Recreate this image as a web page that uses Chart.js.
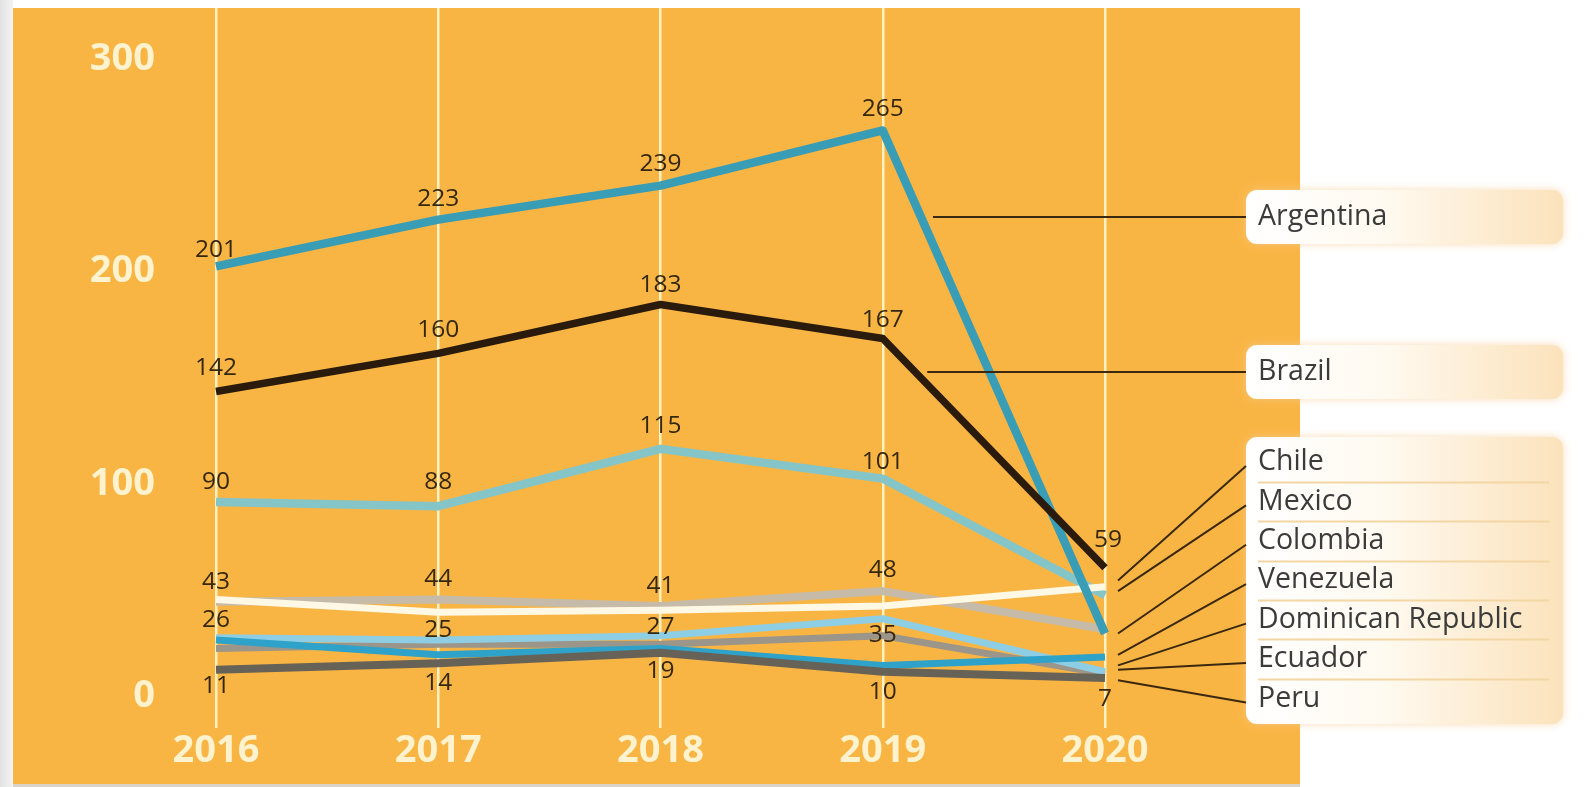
<!DOCTYPE html>
<html><head><meta charset="utf-8">
<script src="https://cdn.jsdelivr.net/npm/chart.js@4.4.0/dist/chart.umd.min.js"></script>
<style>
html,body{margin:0;padding:0;background:#fff;overflow:hidden;}
canvas{display:block;}
</style></head><body>
<canvas id="c" width="1593" height="787"></canvas>
<script>
// ---- data ----
const years = ['2016','2017','2018','2019','2020'];
const yTicks = [0, 100, 200, 300];
const argentina = [201, 223, 239, 265, 28];
const brazil = [142, 160, 183, 167, 59];
const chile = [90, 88, 115, 101, 46];
const mexico = [44, 38, 39, 41, 50];
const colombia = [43, 44, 41, 48, 30];
const venezuela = [25, 18, 21, 13, 17];
const dominicanRepublic = [26, 25, 27, 35, 10];
const ecuador = [21, 23, 23, 27, 9];
const peru = [11, 14, 19, 10, 7];
const boxedCountries = ['Argentina', 'Brazil'];
const groupedCountries = ['Chile', 'Mexico', 'Colombia', 'Venezuela', 'Dominican Republic', 'Ecuador', 'Peru'];
// which points carry a value label
const labelShown = {
  'Argentina': [1,1,1,1,0],
  'Brazil': [1,1,1,1,1],
  'Chile': [1,1,1,1,0],
  'Colombia': [1,1,1,1,0],
  'Dominican Republic': [1,1,1,1,0],
  'Peru': [1,1,1,1,1]
};

// ---- styles / layout ----
const W = 1593, H = 787;
const PANEL = '#F9B544';
const labelOffsets = {
  'Argentina': [-16,-21,-22,-21,0],
  'Brazil': [-24,-23,-20,-18,-28],
  'Chile': [-20,-24,-23,-17,0],
  'Colombia': [-20,-21,-20,-21,0],
  'Dominican Republic': [-18,-10,-9,16,0],
  'Peru': [16,20,18,20,21]
};
const labelDx = {'Brazil':[0,0,0,0,3]};
const leaderAnchorValues = [53, 48, 28, 18, 13, 11, 6];

const styles = {
  'Brazil': {color:'#2A1B0C', width:7.5},
  'Argentina': {color:'#3A9DB6', width:8.5},
  'Peru': {color:'#676257', width:8},
  'Mexico': {color:'#FFF8E4', width:7},
  'Chile': {color:'#86C5C7', width:8.5},
  'Colombia': {color:'#C6BBA9', width:8},
  'Venezuela': {color:'#2FA2C9', width:7},
  'Dominican Republic': {color:'#8ECEE4', width:7},
  'Ecuador': {color:'#9C9589', width:7}
};
const seriesData = {
  'Brazil': brazil, 'Argentina': argentina, 'Peru': peru, 'Mexico': mexico, 'Chile': chile,
  'Colombia': colombia, 'Venezuela': venezuela, 'Dominican Republic': dominicanRepublic, 'Ecuador': ecuador
};
const drawOrder = ['Brazil','Argentina','Peru','Mexico','Chile','Colombia','Venezuela','Dominican Republic','Ecuador'];

const datasets = drawOrder.map(name => ({
  label: name,
  data: seriesData[name],
  borderColor: styles[name].color,
  borderWidth: styles[name].width,
  pointRadius: 0,
  tension: 0,
  fill: false
}));

function rr(ctx, x, y, w, h, r) {
  ctx.beginPath();
  ctx.moveTo(x + r, y);
  ctx.arcTo(x + w, y, x + w, y + h, r);
  ctx.arcTo(x + w, y + h, x, y + h, r);
  ctx.arcTo(x, y + h, x, y, r);
  ctx.arcTo(x, y, x + w, y, r);
  ctx.closePath();
}
function legendBox(ctx, x, y, w, h) {
  ctx.save();
  const g = ctx.createLinearGradient(x, 0, x + w, 0);
  g.addColorStop(0, '#ffffff');
  g.addColorStop(0.42, '#fffaf1');
  g.addColorStop(1, '#fbe2bb');
  ctx.shadowColor = 'rgba(245,205,150,0.7)';
  ctx.shadowBlur = 8;
  ctx.fillStyle = g;
  rr(ctx, x, y, w, h, 11);
  ctx.fill();
  ctx.restore();
}

const panelPlugin = {
  id: 'panel',
  beforeDraw(chart) {
    const ctx = chart.ctx;
    ctx.save();
    ctx.fillStyle = '#ffffff';
    ctx.fillRect(0, 0, W, H);
    const g = ctx.createLinearGradient(0, 0, 13, 0);
    g.addColorStop(0, '#e2e2e2');
    g.addColorStop(1, '#f3f3f3');
    ctx.fillStyle = g;
    ctx.fillRect(0, 0, 13, H);
    ctx.fillStyle = '#d9d3c9';
    ctx.fillRect(13, 784, 1287, 3);
    ctx.fillStyle = PANEL;
    ctx.fillRect(13, 8, 1287, 776);
    ctx.restore();
  }
};

const labelPlugin = {
  id: 'vlabels',
  afterDatasetsDraw(chart) {
    const ctx = chart.ctx;
    ctx.save();
    ctx.font = '24.5px "Open Sans"';
    ctx.fillStyle = '#35280f';
    ctx.textAlign = 'center';
    ctx.textBaseline = 'middle';
    chart.data.datasets.forEach((ds, di) => {
      const show = labelShown[ds.label];
      if (!show) return;
      const meta = chart.getDatasetMeta(di);
      ds.data.forEach((v, i) => {
        if (!show[i]) return;
        const p = meta.data[i];
        const dx = (labelDx[ds.label] || [0,0,0,0,0])[i];
        ctx.fillText(String(v), p.x + dx, p.y + labelOffsets[ds.label][i]);
      });
    });
    ctx.restore();
  }
};

const legendPlugin = {
  id: 'customLegend',
  afterDraw(chart) {
    const ctx = chart.ctx;
    const xs = chart.scales.x, ys = chart.scales.y;
    const bx = 1246, bw = 317;
    ctx.save();
    const boxTops = [190, 345];
    boxedCountries.forEach((name, k) => {
      const top = boxTops[k], h = 54, cy = top + h / 2;
      legendBox(ctx, bx, top, bw, h);
      const d = seriesData[name];
      const x1 = xs.getPixelForValue(3), y1 = ys.getPixelForValue(d[3]);
      const x2 = xs.getPixelForValue(4), y2 = ys.getPixelForValue(d[4]);
      const t = (cy - y1) / (y2 - y1);
      const sx = x1 + t * (x2 - x1) + 12;
      ctx.strokeStyle = '#3a2810';
      ctx.lineWidth = 2;
      ctx.beginPath(); ctx.moveTo(sx, cy); ctx.lineTo(bx, cy); ctx.stroke();
      ctx.fillStyle = '#3b3b3b';
      ctx.font = '28.5px "Open Sans"';
      ctx.textBaseline = 'middle';
      ctx.textAlign = 'left';
      ctx.fillText(name, bx + 12, cy);
    });
    const gTop = 437, gH = 287, rowH = 39.4, firstRow = 462;
    legendBox(ctx, bx, gTop, bw, gH);
    ctx.strokeStyle = '#f2d6a4';
    ctx.lineWidth = 2;
    for (let k = 0; k < groupedCountries.length - 1; k++) {
      const yy = Math.round(firstRow + rowH * (k + 0.5)) + 0.5;
      ctx.beginPath(); ctx.moveTo(bx + 12, yy); ctx.lineTo(bx + bw - 14, yy); ctx.stroke();
    }
    const ax = xs.getPixelForValue(4) + 13;
    groupedCountries.forEach((name, k) => {
      const cy = firstRow + rowH * k;
      ctx.strokeStyle = '#3a2810';
      ctx.lineWidth = 2;
      ctx.beginPath();
      ctx.moveTo(ax, ys.getPixelForValue(leaderAnchorValues[k]));
      ctx.lineTo(bx, cy + 4);
      ctx.stroke();
      ctx.fillStyle = '#3b3b3b';
      ctx.font = '28.5px "Open Sans"';
      ctx.textBaseline = 'middle';
      ctx.textAlign = 'left';
      ctx.fillText(name, bx + 12, cy);
    });
    ctx.restore();
  }
};

new Chart(document.getElementById('c').getContext('2d'), {
  type: 'line',
  data: { labels: years, datasets: datasets },
  options: {
    responsive: false,
    animation: false,
    layout: { padding: { top: 8, right: 488, bottom: 0, left: 0 } },
    plugins: { legend: { display: false }, tooltip: { enabled: false } },
    elements: { line: { borderJoinStyle: 'round', borderCapStyle: 'butt' } },
    scales: {
      x: {
        grid: { color: '#FDF1C2', lineWidth: 2.5, drawTicks: false },
        border: { display: false },
        ticks: { color: '#FFF3CF', font: { family: 'Open Sans', size: 38, weight: 'bold' }, padding: 0, maxRotation: 0, autoSkip: false },
        afterFit(s) { s.height = 59; }
      },
      y: {
        min: -16.5, max: 322.7,
        grid: { display: false, drawTicks: true, tickLength: 61 },
        border: { display: false },
        afterBuildTicks(s) { s.ticks = yTicks.map(v => ({ value: v })); },
        ticks: { color: '#FFF3CF', font: { family: 'Open Sans', size: 38, weight: 'bold', lineHeight: 0.35 }, padding: 0, labelOffset: 3 },
        afterFit(s) { s.width = 216; }
      }
    }
  },
  plugins: [panelPlugin, labelPlugin, legendPlugin]
});
</script>
</body></html>
